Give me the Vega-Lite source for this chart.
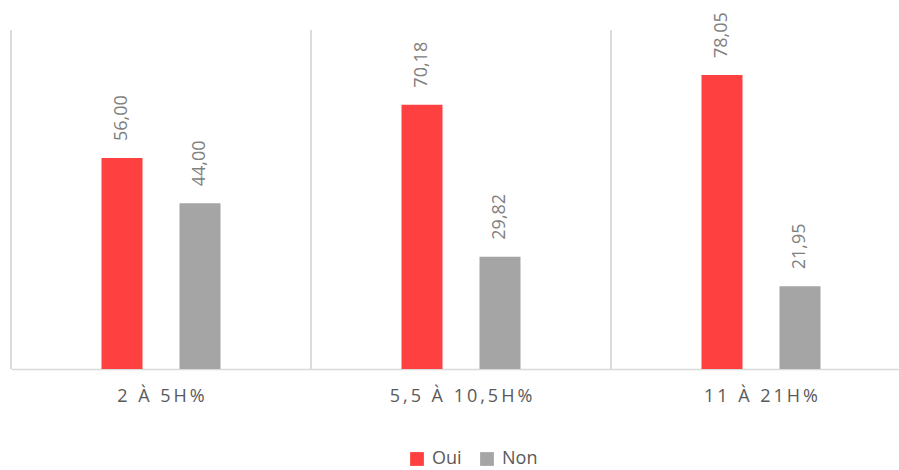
{
  "$schema": "https://vega.github.io/schema/vega-lite/v6.json",
  "width": 900,
  "height": 339,
  "autosize": {"type": "none"},
  "padding": {"left": 11, "top": 30, "right": 0, "bottom": 101},
  "config": {
    "view": {"stroke": null},
    "font": "Open Sans"
  },
  "data": {
    "values": [
      {"cat": "2 À 5H%", "serie": "Oui", "val": 56.00, "label": "56,00"},
      {"cat": "2 À 5H%", "serie": "Non", "val": 44.00, "label": "44,00"},
      {"cat": "5,5 À 10,5H%", "serie": "Oui", "val": 70.18, "label": "70,18"},
      {"cat": "5,5 À 10,5H%", "serie": "Non", "val": 29.82, "label": "29,82"},
      {"cat": "11 À 21H%", "serie": "Oui", "val": 78.05, "label": "78,05"},
      {"cat": "11 À 21H%", "serie": "Non", "val": 21.95, "label": "21,95"}
    ]
  },
  "encoding": {
    "x": {
      "field": "cat", "type": "nominal", "sort": null,
      "scale": {"paddingInner": 0, "paddingOuter": 0},
      "axis": {
        "title": null, "labelAngle": 0, "ticks": false, "domain": true,
        "domainColor": "#d9d9d9", "domainWidth": 1.5,
        "labelExpr": "join(split(datum.label, ''), '\u2009')",
        "labelFontSize": 18, "labelColor": "#595959", "labelPadding": 18
      }
    }
  },
  "layer": [
    {
      "mark": {"type": "rule", "color": "#d9d9d9", "strokeWidth": 1.5},
      "encoding": {
        "x": {"field": "cat", "type": "nominal", "sort": null, "bandPosition": 0}
      }
    },
    {
      "mark": {"type": "bar", "width": 41},
      "encoding": {
        "xOffset": {
          "field": "serie", "type": "nominal", "sort": ["Oui", "Non"],
          "scale": {"paddingInner": 0.154, "paddingOuter": 1}
        },
        "y": {
          "field": "val", "type": "quantitative",
          "scale": {"domain": [0, 90], "nice": false},
          "axis": null
        },
        "color": {
          "field": "serie", "type": "nominal", "sort": ["Oui", "Non"],
          "scale": {"domain": ["Oui", "Non"], "range": ["#ff4040", "#a5a5a5"]},
          "legend": {
            "title": null, "orient": "none", "direction": "horizontal",
            "legendX": 397, "legendY": 420,
            "symbolType": "square", "symbolSize": 190, "symbolStrokeWidth": 0,
            "labelFontSize": 18, "labelColor": "#595959", "columnPadding": 16, "labelOffset": 6
          }
        }
      }
    },
    {
      "mark": {"type": "text", "angle": 270, "align": "left", "baseline": "middle", "dx": 17, "fontSize": 18, "color": "#808080"},
      "encoding": {
        "xOffset": {
          "field": "serie", "type": "nominal", "sort": ["Oui", "Non"],
          "scale": {"paddingInner": 0.154, "paddingOuter": 1}
        },
        "y": {"field": "val", "type": "quantitative"},
        "text": {"field": "label"}
      }
    }
  ]
}
